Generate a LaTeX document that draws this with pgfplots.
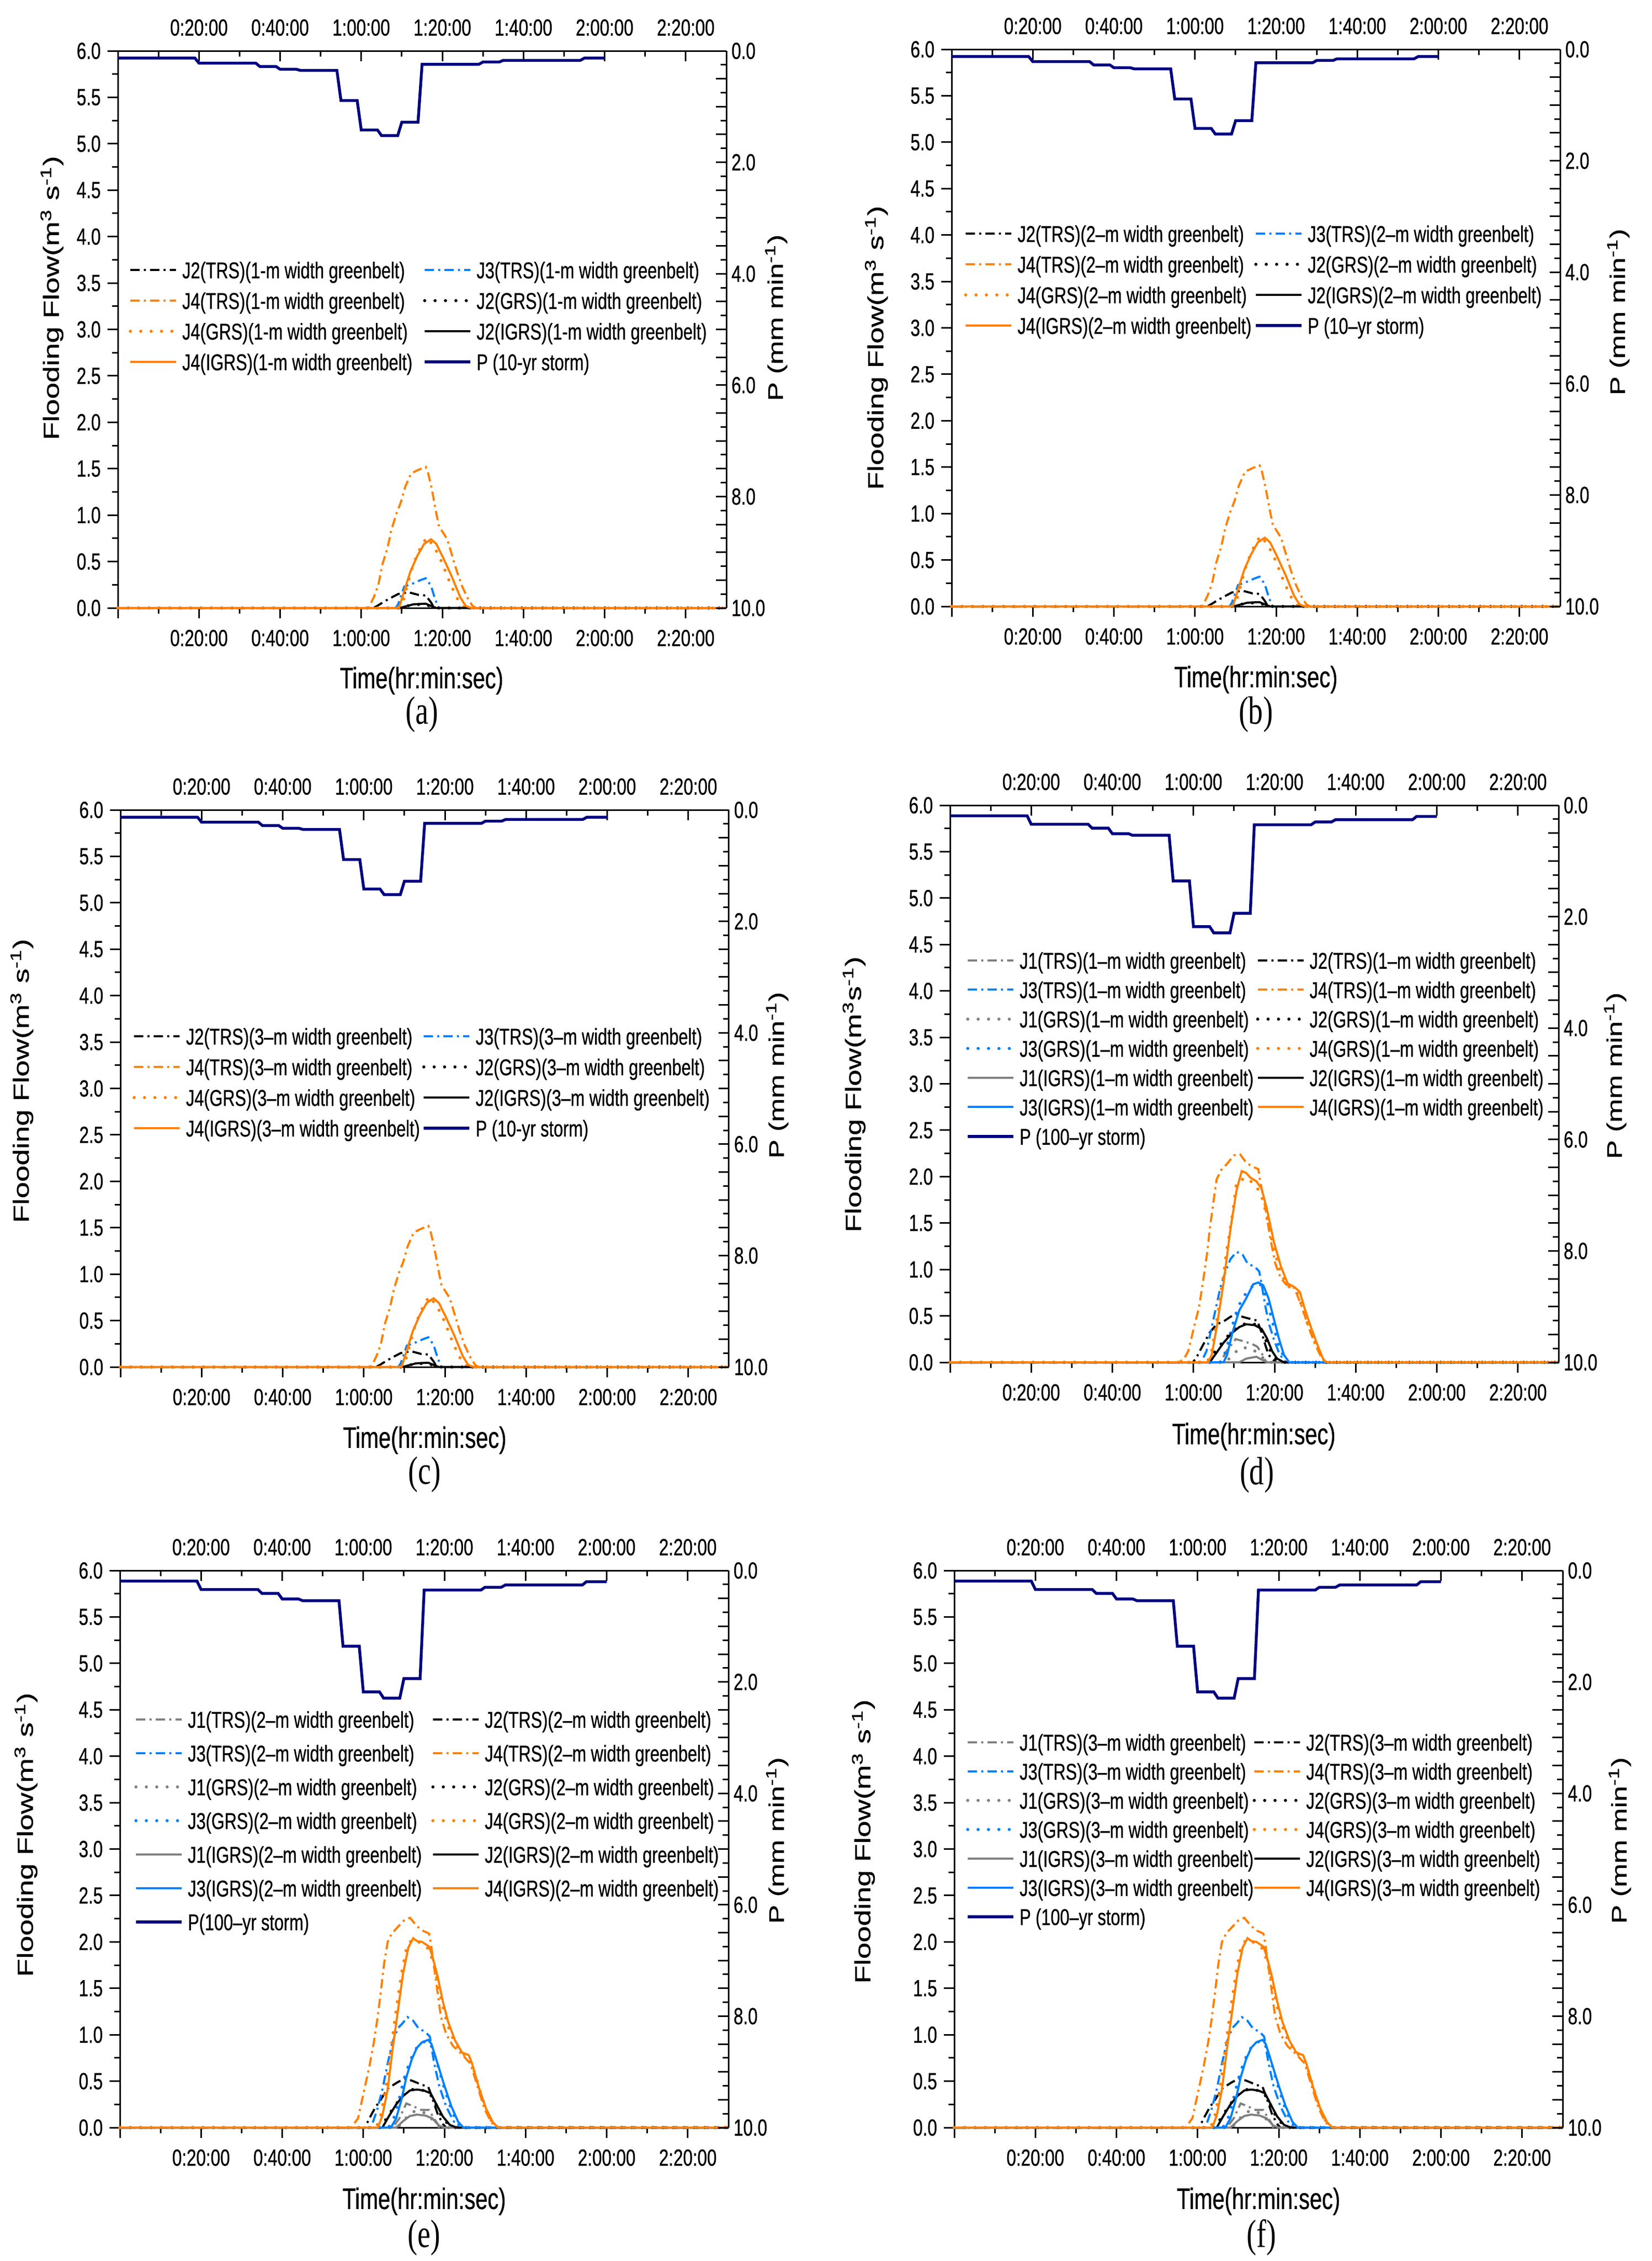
\documentclass[border=0pt]{standalone}
\usepackage{fontspec}
\setmainfont{Liberation Sans}[FakeStretch=0.74, FakeBold=0.6]
\newfontfamily\plainsans{Liberation Sans}[FakeBold=0.6]
\newfontfamily\serifc{Liberation Serif}[FakeStretch=0.74]
\usepackage{graphicx}
\usepackage{pgfplots}
\usepackage{pgfplotstable}
\pgfplotsset{compat=1.18}
\definecolor{cOr}{RGB}{255,128,0}
\definecolor{cBl}{RGB}{0,128,255}
\definecolor{cGr}{RGB}{128,128,128}
\definecolor{cNv}{RGB}{0,0,128}
\newcommand{\ticf}{\fontsize{9.0pt}{10pt}\selectfont}
\newcommand{\legf}{\fontsize{8.8pt}{10pt}\selectfont}
\newcommand{\xlab}{\fontsize{11.4pt}{13pt}\selectfont}
\newcommand{\ylab}{\plainsans\fontsize{11.4pt}{13pt}\selectfont}
\newcommand{\plab}{\plainsans\fontsize{11pt}{13pt}\selectfont}
\newcommand{\capf}{\serifc\fontsize{15.2pt}{17pt}\selectfont}
\newlength{\legw}
\newcommand{\LE}[1]{\makebox[\legw][l]{#1}}
\newcommand{\YL}[1]{\scalebox{1}[0.74]{\ylab #1}}
\newcommand{\PL}[1]{\scalebox{1}[0.74]{\plab #1}}
\tikzset{
 trs/.style={line width=0.8pt, dash pattern=on 3.6pt off 1.6pt on 0.8pt off 1.6pt},
 grs/.style={line width=1.2pt, line cap=round, dash pattern=on 0pt off 4pt},
 igrs/.style={line width=0.8pt},
 pst/.style={cNv, line width=1.1pt},
}
\pgfplotsset{
 base/.style={scale only axis, width=234.4pt, height=214.6pt, xmin=0, xmax=150, clip=false,
   xtick={0,20,...,140}, minor x tick num=1, major tick length=4pt, minor tick length=2.2pt,
   tick style={black, line width=0.6pt}, axis line style={line width=0.6pt},
   tick label style={font=\ticf}, /pgf/number format/assume math mode=true,
   xticklabels={{},0:20:00,0:40:00,1:00:00,1:20:00,1:40:00,2:00:00,2:20:00},
   anchor=south west},
 mainax/.style={base, axis x line*=bottom, axis y line*=left, tick align=outside,
   ymin=0, ymax=6, ytick={0,0.5,...,6}, minor y tick num=1,
   yticklabel style={inner sep=0pt, xshift=-2.4pt},
   y tick label style={/pgf/number format/.cd, fixed, fixed zerofill, precision=1, /tikz/.cd},
   xticklabel style={inner sep=0pt, yshift=-4.2pt},
   legend columns=2, legend cell align=left,
   legend image code/.code={\draw[##1] (0pt,0pt) -- (17.6pt,0pt);},
   legend style={draw=none, fill=none, inner sep=0pt, outer sep=0pt, anchor=north west,
     font=\legf, column sep=1.8pt, /tikz/every even column/.append style={column sep=0pt},
     nodes={inner sep=0pt, text height=6.4pt, text depth=0pt}}},
 secax/.style={base, axis x line*=top, axis y line*=right, tick align=inside,
   ymin=0, ymax=10, y dir=reverse, ytick={0,0.5,...,10}, minor y tick num=1,
   yticklabels={0.0,,,,2.0,,,,4.0,,,,6.0,,,,8.0,,,,10.0},
   yticklabel style={inner sep=0pt, xshift=1.8pt},
   xticklabel style={inner sep=0pt, yshift=5.6pt}},
}
% ---------- 10-yr storm, flooding flow (m3/s) vs time (min)
\pgfplotstableread[row sep=\\]{t y\\0 0\\63 0\\64 0.024\\65.7 0.07\\67.6 0.116\\69.1 0.15\\71.6 0.17\\74.2 0.14\\75.9 0.135\\77.2 0.06\\77.8 0.015\\78.3 0\\150 0\\}\tenJtwoTRS
\pgfplotstableread[row sep=\\]{t y\\0 0\\68.5 0\\69.1 0.04\\70.6 0.23\\73.1 0.27\\74.6 0.30\\75.9 0.32\\76.5 0.29\\77.4 0.21\\78.0 0.125\\78.9 0.015\\79.2 0\\150 0\\}\tenJthreeTRS
\pgfplotstableread[row sep=\\]{t y\\0 0\\61.8 0\\63.1 0.116\\64.2 0.245\\65.2 0.467\\66.5 0.65\\67.4 0.836\\68.7 1.02\\69.7 1.13\\70.8 1.30\\72.3 1.45\\74.2 1.49\\75.9 1.52\\76.5 1.45\\77.4 1.28\\78.5 1.02\\79.1 0.89\\79.9 0.83\\81.2 0.74\\82.3 0.58\\83.6 0.39\\84.9 0.23\\86.1 0.116\\87.4 0.024\\88.3 0\\150 0\\}\tenJfourTRS
\pgfplotstableread[row sep=\\]{t y\\0 0\\69.5 0\\72.5 0.035\\75.5 0.04\\77.5 0.012\\78.5 0\\150 0\\}\tenJtwoGRS
\pgfplotstableread[row sep=\\]{t y\\0 0\\69.0 0\\70.5 0.1\\71.7 0.3\\72.8 0.47\\74.5 0.64\\76.1 0.76\\78.0 0.66\\79.9 0.49\\81.6 0.30\\83.3 0.13\\84.5 0.04\\85.5 0\\150 0\\}\tenJfourGRS
\pgfplotstableread[row sep=\\]{t y\\0 0\\69.5 0\\72.9 0.04\\75.9 0.046\\77.6 0.015\\78.5 0\\150 0\\}\tenJtwoIGRS
\pgfplotstableread[row sep=\\]{t y\\0 0\\69.3 0\\70.8 0.21\\72.1 0.39\\73.8 0.56\\75.5 0.69\\77.2 0.74\\78.5 0.69\\80.2 0.54\\82.3 0.34\\84.4 0.116\\85.7 0.024\\87.0 0\\150 0\\}\tenJfourIGRS
% ---------- 100-yr storm, 1-m greenbelt (d)
\pgfplotstableread[row sep=\\]{t y\\0 0\\66.6 0\\68.3 0.13\\70.4 0.25\\72.1 0.23\\74.3 0.20\\75.7 0.17\\76.8 0.10\\77.7 0.02\\78.1 0\\150 0\\}\dJoneTRS
\pgfplotstableread[row sep=\\]{t y\\0 0\\59.8 0\\60.6 0.04\\61.9 0.15\\64.0 0.32\\65.7 0.41\\67.4 0.44\\69.1 0.49\\70.6 0.52\\72.1 0.49\\73.8 0.47\\75.7 0.45\\76.8 0.32\\77.7 0.19\\78.5 0.08\\79.8 0.02\\80.6 0\\150 0\\}\dJtwoTRS
\pgfplotstableread[row sep=\\]{t y\\0 0\\61.9 0\\63.2 0.12\\64.0 0.28\\65.3 0.54\\66.6 0.80\\67.9 0.98\\69.1 1.11\\70.6 1.19\\72.1 1.16\\73.4 1.06\\75.1 1.03\\76.2 0.98\\76.8 0.84\\77.7 0.61\\78.5 0.43\\79.8 0.25\\81.1 0.10\\82.3 0.02\\83.0 0\\150 0\\}\dJthreeTRS
\pgfplotstableread[row sep=\\]{t y\\0 0\\56.4 0\\57.7 0.04\\58.7 0.12\\60.2 0.39\\61.3 0.58\\62.3 0.85\\63.4 1.19\\64.0 1.43\\64.9 1.72\\65.7 1.97\\66.8 2.07\\68.3 2.14\\70.0 2.23\\71.5 2.24\\73.0 2.15\\74.5 2.11\\76.0 2.08\\76.4 1.96\\77.7 1.67\\79.0 1.32\\80.2 1.06\\81.5 0.91\\82.8 0.84\\84.9 0.80\\86.6 0.61\\88.3 0.39\\90.0 0.19\\91.7 0.04\\92.6 0\\150 0\\}\dJfourTRS
\pgfplotstableread[row sep=\\]{t y\\0 0\\68 0\\70 0.10\\72 0.16\\74 0.15\\76 0.10\\77.5 0.03\\78.5 0\\150 0\\}\dJoneGRS
\pgfplotstableread[row sep=\\]{t y\\0 0\\63.5 0\\65 0.10\\67.4 0.23\\69.6 0.34\\71.3 0.39\\73 0.42\\75.1 0.41\\76.8 0.35\\78 0.22\\79.4 0.08\\80.6 0.02\\81.5 0\\150 0\\}\dJtwoGRS
\pgfplotstableread[row sep=\\]{t y\\0 0\\66.5 0\\68 0.12\\69.5 0.38\\71 0.60\\73 0.75\\75 0.84\\76.3 0.85\\77.3 0.78\\78.5 0.60\\79.8 0.38\\81 0.18\\82.5 0.04\\83.3 0\\150 0\\}\dJthreeGRS
\pgfplotstableread[row sep=\\]{t y\\0 0\\63.3 0\\64.3 0.08\\65.5 0.38\\67.2 0.88\\68.3 1.24\\69.6 1.59\\70.6 1.94\\73.0 1.99\\75.5 1.90\\77.2 1.74\\79.0 1.37\\81.1 1.02\\82.8 0.84\\85.7 0.74\\88.3 0.39\\90.0 0.21\\91.7 0.04\\92.7 0\\150 0\\}\dJfourGRS
\pgfplotstableread[row sep=\\]{t y\\0 0\\71.3 0\\73.0 0.04\\75.5 0.06\\77.2 0.02\\78.1 0\\150 0\\}\dJoneIGRS
\pgfplotstableread[row sep=\\]{t y\\0 0\\64.0 0\\65.3 0.08\\67.4 0.21\\69.6 0.32\\71.3 0.38\\73.0 0.41\\75.1 0.40\\76.8 0.36\\78.1 0.26\\79.4 0.12\\80.6 0.04\\82.3 0\\150 0\\}\dJtwoIGRS
\pgfplotstableread[row sep=\\]{t y\\0 0\\67.4 0\\68.3 0.08\\69.6 0.32\\71.3 0.56\\73.0 0.69\\74.7 0.84\\76.0 0.86\\77.2 0.83\\78.5 0.69\\79.8 0.47\\81.1 0.25\\82.3 0.08\\83.6 0\\150 0\\}\dJthreeIGRS
\pgfplotstableread[row sep=\\]{t y\\0 0\\63.6 0\\64.5 0.08\\65.7 0.37\\67.4 0.85\\69.1 1.43\\70.6 1.85\\71.9 2.06\\73.0 2.04\\74.0 1.99\\75.5 1.95\\76.8 1.87\\78.1 1.65\\79.8 1.30\\81.5 1.04\\83.2 0.85\\84.9 0.81\\86.2 0.76\\87.4 0.58\\89.1 0.36\\90.9 0.15\\92.1 0.02\\93.0 0\\150 0\\}\dJfourIGRS
% ---------- 100-yr storm, 2-m / 3-m greenbelt (e, f)
\pgfplotstableread[row sep=\\]{t y\\0 0\\67.2 0\\68.9 0.10\\70.6 0.26\\72.3 0.23\\74.3 0.19\\76.2 0.19\\77.0 0.13\\78.3 0.04\\79.1 0\\150 0\\}\eJoneTRS
\pgfplotstableread[row sep=\\]{t y\\0 0\\60.4 0\\61.5 0.10\\63.0 0.22\\64.3 0.30\\66.0 0.42\\68.5 0.49\\70.4 0.53\\72.3 0.50\\74.5 0.46\\76.0 0.44\\77.0 0.32\\78.3 0.15\\79.6 0.04\\80.4 0\\150 0\\}\eJtwoTRS
\pgfplotstableread[row sep=\\]{t y\\0 0\\61.9 0\\63.4 0.19\\64.7 0.41\\66.0 0.69\\67.2 0.92\\68.5 1.07\\69.6 1.12\\70.9 1.19\\72.3 1.15\\73.6 1.07\\75.3 1.03\\76.4 0.98\\77.4 0.71\\78.7 0.45\\80.4 0.23\\82.1 0.08\\83.4 0\\150 0\\}\eJthreeTRS
\pgfplotstableread[row sep=\\]{t y\\0 0\\57.0 0\\58.7 0.10\\60.2 0.40\\61.5 0.66\\62.6 0.92\\63.5 1.18\\64.3 1.46\\65.1 1.76\\66.0 2.00\\67.0 2.09\\68.5 2.16\\70.0 2.23\\71.5 2.26\\73.2 2.17\\74.7 2.12\\76.2 2.09\\76.6 2.00\\77.9 1.59\\79.1 1.20\\80.4 1.01\\82.1 0.88\\84.3 0.79\\86.4 0.69\\88.1 0.45\\89.8 0.21\\91.5 0.06\\92.8 0\\150 0\\}\eJfourTRS
\pgfplotstableread[row sep=\\]{t y\\0 0\\68.5 0\\70 0.08\\72 0.17\\74 0.18\\76 0.14\\77.5 0.06\\78.8 0\\150 0\\}\eJoneGRS
\pgfplotstableread[row sep=\\]{t y\\0 0\\64.3 0\\66 0.12\\68 0.25\\70 0.36\\72 0.41\\74 0.41\\76.2 0.38\\77.6 0.28\\79.2 0.13\\81 0.03\\82.5 0\\150 0\\}\eJtwoGRS
\pgfplotstableread[row sep=\\]{t y\\0 0\\66.2 0\\67.5 0.10\\68.8 0.30\\70 0.52\\71.5 0.72\\73 0.85\\74.5 0.92\\76 0.93\\77 0.86\\78.5 0.65\\80 0.42\\81.5 0.22\\83 0.06\\84.3 0\\150 0\\}\eJthreeGRS
\pgfplotstableread[row sep=\\]{t y\\0 0\\63.2 0\\64.4 0.15\\65.6 0.45\\66.9 0.88\\68.2 1.30\\69.5 1.68\\70.7 1.95\\72.1 2.03\\74.5 1.98\\76.2 1.92\\77.7 1.70\\79.3 1.36\\80.8 1.10\\82.5 0.92\\84.3 0.80\\86.0 0.76\\86.9 0.67\\88.6 0.42\\90.2 0.20\\91.8 0.05\\93.0 0\\150 0\\}\eJfourGRS
\pgfplotstableread[row sep=\\]{t y\\0 0\\68.1 0\\69.8 0.07\\71.5 0.125\\73.2 0.14\\75.3 0.13\\77.0 0.10\\78.7 0.02\\80.0 0\\150 0\\}\eJoneIGRS
\pgfplotstableread[row sep=\\]{t y\\0 0\\64.7 0\\66.4 0.13\\68.1 0.25\\69.8 0.34\\71.5 0.40\\73.2 0.41\\74.9 0.40\\76.6 0.37\\77.9 0.26\\79.6 0.12\\81.3 0.03\\83.0 0\\150 0\\}\eJtwoIGRS
\pgfplotstableread[row sep=\\]{t y\\0 0\\66.8 0\\68.1 0.10\\69.4 0.30\\70.6 0.54\\71.9 0.73\\73.2 0.86\\74.5 0.92\\76.0 0.945\\76.8 0.90\\78.3 0.69\\80.0 0.45\\81.7 0.23\\83.4 0.06\\84.7 0\\150 0\\}\eJthreeIGRS
\pgfplotstableread[row sep=\\]{t y\\0 0\\63.6 0\\64.7 0.13\\66.0 0.41\\67.2 0.84\\68.5 1.25\\69.8 1.66\\71.1 1.94\\72.3 2.04\\73.2 2.01\\74.5 2.00\\76.2 1.95\\77.0 1.85\\78.3 1.63\\79.6 1.36\\80.9 1.14\\82.6 0.94\\84.3 0.81\\86.0 0.78\\86.8 0.69\\88.5 0.43\\90.2 0.21\\91.9 0.06\\93.2 0\\150 0\\}\eJfourIGRS
% ---------- rainfall intensity P (mm/min)
\pgfplotstableread[row sep=\\]{t p\\0 0.13\\19 0.13\\20 0.22\\34 0.22\\35 0.28\\39 0.28\\40 0.33\\44 0.33\\45 0.35\\54 0.35\\55 0.89\\59 0.89\\60 1.42\\64 1.42\\65 1.52\\69 1.52\\70 1.28\\74 1.28\\75 0.24\\89 0.24\\90 0.20\\94 0.20\\95 0.17\\114 0.17\\115 0.13\\120 0.13\\}\Pten
\pgfplotstableread[row sep=\\]{t p\\0 0.19\\19 0.19\\20 0.34\\34 0.34\\35 0.41\\39 0.41\\40 0.51\\44 0.51\\45 0.54\\54 0.54\\55 1.36\\59 1.36\\60 2.18\\64 2.18\\65 2.29\\69 2.29\\70 1.94\\74 1.94\\75 0.35\\89 0.35\\90 0.30\\94 0.30\\95 0.26\\114 0.26\\115 0.20\\120 0.20\\}\Phun
\begin{document}
\begin{tikzpicture}
\path[use as bounding box] (0pt,0pt) rectangle (636.4pt,-871pt);
% ================= (a)
\setlength{\legw}{92.8pt}
\begin{axis}[mainax, at={(45.4pt,-234.2pt)}, legend style={at={(0.018,0.6216)}, row sep=5.4pt}]
\addplot[black, trs] table {\tenJtwoTRS}; \addlegendentry{\LE{J2(TRS)(1-m width greenbelt)}}
\addplot[cBl, trs] table {\tenJthreeTRS}; \addlegendentry{\LE{J3(TRS)(1-m width greenbelt)}}
\addplot[cOr, trs] table {\tenJfourTRS}; \addlegendentry{\LE{J4(TRS)(1-m width greenbelt)}}
\addplot[black, grs] table {\tenJtwoGRS}; \addlegendentry{\LE{J2(GRS)(1-m width greenbelt)}}
\addplot[cOr, grs] table {\tenJfourGRS}; \addlegendentry{\LE{J4(GRS)(1-m width greenbelt)}}
\addplot[black, igrs] table {\tenJtwoIGRS}; \addlegendentry{\LE{J2(IGRS)(1-m width greenbelt)}}
\addplot[cOr, igrs] table {\tenJfourIGRS}; \addlegendentry{\LE{J4(IGRS)(1-m width greenbelt)}}
\addlegendimage{pst}\addlegendentry{\LE{P (10-yr storm)}}
\end{axis}
\begin{axis}[secax, at={(45.4pt,-234.2pt)}]
\addplot[pst] table {\Pten};
\end{axis}
% ================= (b)
\setlength{\legw}{91.2pt}
\begin{axis}[mainax, at={(366.6pt,-233.6pt)}, legend style={at={(0.0205,0.684)}, row sep=5.4pt}]
\addplot[black, trs] table {\tenJtwoTRS}; \addlegendentry{\LE{J2(TRS)(2–m width greenbelt)}}
\addplot[cBl, trs] table {\tenJthreeTRS}; \addlegendentry{\LE{J3(TRS)(2–m width greenbelt)}}
\addplot[cOr, trs] table {\tenJfourTRS}; \addlegendentry{\LE{J4(TRS)(2–m width greenbelt)}}
\addplot[black, grs] table {\tenJtwoGRS}; \addlegendentry{\LE{J2(GRS)(2–m width greenbelt)}}
\addplot[cOr, grs] table {\tenJfourGRS}; \addlegendentry{\LE{J4(GRS)(2–m width greenbelt)}}
\addplot[black, igrs] table {\tenJtwoIGRS}; \addlegendentry{\LE{J2(IGRS)(2–m width greenbelt)}}
\addplot[cOr, igrs] table {\tenJfourIGRS}; \addlegendentry{\LE{J4(IGRS)(2–m width greenbelt)}}
\addlegendimage{pst}\addlegendentry{\LE{P (10–yr storm)}}
\end{axis}
\begin{axis}[secax, at={(366.6pt,-233.6pt)}]
\addplot[pst] table {\Pten};
\end{axis}
% ================= (c)
\setlength{\legw}{91.0pt}
\begin{axis}[mainax, at={(46.4pt,-526.6pt)}, legend style={at={(0.0199,0.6086)}, row sep=5.4pt}]
\addplot[black, trs] table {\tenJtwoTRS}; \addlegendentry{\LE{J2(TRS)(3–m width greenbelt)}}
\addplot[cBl, trs] table {\tenJthreeTRS}; \addlegendentry{\LE{J3(TRS)(3–m width greenbelt)}}
\addplot[cOr, trs] table {\tenJfourTRS}; \addlegendentry{\LE{J4(TRS)(3–m width greenbelt)}}
\addplot[black, grs] table {\tenJtwoGRS}; \addlegendentry{\LE{J2(GRS)(3–m width greenbelt)}}
\addplot[cOr, grs] table {\tenJfourGRS}; \addlegendentry{\LE{J4(GRS)(3–m width greenbelt)}}
\addplot[black, igrs] table {\tenJtwoIGRS}; \addlegendentry{\LE{J2(IGRS)(3–m width greenbelt)}}
\addplot[cOr, igrs] table {\tenJfourIGRS}; \addlegendentry{\LE{J4(IGRS)(3–m width greenbelt)}}
\addlegendimage{pst}\addlegendentry{\LE{P (10-yr storm)}}
\end{axis}
\begin{axis}[secax, at={(46.4pt,-526.6pt)}]
\addplot[pst] table {\Pten};
\end{axis}
% ================= (d)
\setlength{\legw}{91.1pt}
\begin{axis}[mainax, at={(366.0pt,-524.8pt)}, legend style={at={(0.0265,0.7363)}, row sep=4.9pt}]
\addplot[cGr, trs] table {\dJoneTRS}; \addlegendentry{\LE{J1(TRS)(1–m width greenbelt)}}
\addplot[black, trs] table {\dJtwoTRS}; \addlegendentry{\LE{J2(TRS)(1–m width greenbelt)}}
\addplot[cBl, trs] table {\dJthreeTRS}; \addlegendentry{\LE{J3(TRS)(1–m width greenbelt)}}
\addplot[cOr, trs] table {\dJfourTRS}; \addlegendentry{\LE{J4(TRS)(1–m width greenbelt)}}
\addplot[cGr, grs] table {\dJoneGRS}; \addlegendentry{\LE{J1(GRS)(1–m width greenbelt)}}
\addplot[black, grs] table {\dJtwoGRS}; \addlegendentry{\LE{J2(GRS)(1–m width greenbelt)}}
\addplot[cBl, grs] table {\dJthreeGRS}; \addlegendentry{\LE{J3(GRS)(1–m width greenbelt)}}
\addplot[cOr, grs] table {\dJfourGRS}; \addlegendentry{\LE{J4(GRS)(1–m width greenbelt)}}
\addplot[cGr, igrs] table {\dJoneIGRS}; \addlegendentry{\LE{J1(IGRS)(1–m width greenbelt)}}
\addplot[black, igrs] table {\dJtwoIGRS}; \addlegendentry{\LE{J2(IGRS)(1–m width greenbelt)}}
\addplot[cBl, igrs] table {\dJthreeIGRS}; \addlegendentry{\LE{J3(IGRS)(1–m width greenbelt)}}
\addplot[cOr, igrs] table {\dJfourIGRS}; \addlegendentry{\LE{J4(IGRS)(1–m width greenbelt)}}
\addlegendimage{pst}\addlegendentry{\LE{P (100–yr storm)}}
\end{axis}
\begin{axis}[secax, at={(366.0pt,-524.8pt)}]
\addplot[pst] table {\Phun};
\end{axis}
% ================= (e)
\setlength{\legw}{93.8pt}
\begin{axis}[mainax, at={(46.2pt,-819.6pt)}, legend style={at={(0.0238,0.7476)}, row sep=6.6pt}]
\addplot[cGr, trs] table {\eJoneTRS}; \addlegendentry{\LE{J1(TRS)(2–m width greenbelt)}}
\addplot[black, trs] table {\eJtwoTRS}; \addlegendentry{\LE{J2(TRS)(2–m width greenbelt)}}
\addplot[cBl, trs] table {\eJthreeTRS}; \addlegendentry{\LE{J3(TRS)(2–m width greenbelt)}}
\addplot[cOr, trs] table {\eJfourTRS}; \addlegendentry{\LE{J4(TRS)(2–m width greenbelt)}}
\addplot[cGr, grs] table {\eJoneGRS}; \addlegendentry{\LE{J1(GRS)(2–m width greenbelt)}}
\addplot[black, grs] table {\eJtwoGRS}; \addlegendentry{\LE{J2(GRS)(2–m width greenbelt)}}
\addplot[cBl, grs] table {\eJthreeGRS}; \addlegendentry{\LE{J3(GRS)(2–m width greenbelt)}}
\addplot[cOr, grs] table {\eJfourGRS}; \addlegendentry{\LE{J4(GRS)(2–m width greenbelt)}}
\addplot[cGr, igrs] table {\eJoneIGRS}; \addlegendentry{\LE{J1(IGRS)(2–m width greenbelt)}}
\addplot[black, igrs] table {\eJtwoIGRS}; \addlegendentry{\LE{J2(IGRS)(2–m width greenbelt)}}
\addplot[cBl, igrs] table {\eJthreeIGRS}; \addlegendentry{\LE{J3(IGRS)(2–m width greenbelt)}}
\addplot[cOr, igrs] table {\eJfourIGRS}; \addlegendentry{\LE{J4(IGRS)(2–m width greenbelt)}}
\addlegendimage{pst}\addlegendentry{\LE{P(100–yr storm)}}
\end{axis}
\begin{axis}[secax, at={(46.2pt,-819.6pt)}]
\addplot[pst] table {\Phun};
\end{axis}
% ================= (f)
\setlength{\legw}{89.8pt}
\begin{axis}[mainax, at={(367.6pt,-819.6pt)}, legend style={at={(0.0196,0.7066)}, row sep=4.8pt}]
\addplot[cGr, trs] table {\eJoneTRS}; \addlegendentry{\LE{J1(TRS)(3–m width greenbelt)}}
\addplot[black, trs] table {\eJtwoTRS}; \addlegendentry{\LE{J2(TRS)(3–m width greenbelt)}}
\addplot[cBl, trs] table {\eJthreeTRS}; \addlegendentry{\LE{J3(TRS)(3–m width greenbelt)}}
\addplot[cOr, trs] table {\eJfourTRS}; \addlegendentry{\LE{J4(TRS)(3–m width greenbelt)}}
\addplot[cGr, grs] table {\eJoneGRS}; \addlegendentry{\LE{J1(GRS)(3–m width greenbelt)}}
\addplot[black, grs] table {\eJtwoGRS}; \addlegendentry{\LE{J2(GRS)(3–m width greenbelt)}}
\addplot[cBl, grs] table {\eJthreeGRS}; \addlegendentry{\LE{J3(GRS)(3–m width greenbelt)}}
\addplot[cOr, grs] table {\eJfourGRS}; \addlegendentry{\LE{J4(GRS)(3–m width greenbelt)}}
\addplot[cGr, igrs] table {\eJoneIGRS}; \addlegendentry{\LE{J1(IGRS)(3–m width greenbelt)}}
\addplot[black, igrs] table {\eJtwoIGRS}; \addlegendentry{\LE{J2(IGRS)(3–m width greenbelt)}}
\addplot[cBl, igrs] table {\eJthreeIGRS}; \addlegendentry{\LE{J3(IGRS)(3–m width greenbelt)}}
\addplot[cOr, igrs] table {\eJfourIGRS}; \addlegendentry{\LE{J4(IGRS)(3–m width greenbelt)}}
\addlegendimage{pst}\addlegendentry{\LE{P (100–yr storm)}}
\end{axis}
\begin{axis}[secax, at={(367.6pt,-819.6pt)}]
\addplot[pst] table {\Phun};
\end{axis}
% ================= labels
\node[rotate=90] at (20pt,-114.8pt) {\YL{Flooding Flow(m\textsuperscript{3} s\textsuperscript{-1})}};
\node[rotate=90] at (299pt,-122.4pt) {\PL{P (mm min\textsuperscript{-1})}};
\node[font=\xlab] at (162.4pt,-262.2pt) {Time(hr:min:sec)};
\node[font=\capf] at (162.6pt,-275.2pt) {(a)};
\node[rotate=90] at (337.6pt,-134pt) {\YL{Flooding Flow(m\textsuperscript{3} s\textsuperscript{-1})}};
\node[rotate=90] at (623.4pt,-120.2pt) {\PL{P (mm min\textsuperscript{-1})}};
\node[font=\xlab] at (483.8pt,-261.8pt) {Time(hr:min:sec)};
\node[font=\capf] at (483.8pt,-275.2pt) {(b)};
\node[rotate=90] at (8.4pt,-416.4pt) {\YL{Flooding Flow(m\textsuperscript{3} s\textsuperscript{-1})}};
\node[rotate=90] at (299.4pt,-414.2pt) {\PL{P (mm min\textsuperscript{-1})}};
\node[font=\xlab] at (163.6pt,-554.8pt) {Time(hr:min:sec)};
\node[font=\capf] at (163.6pt,-568pt) {(c)};
\node[rotate=90] at (329pt,-421.6pt) {\YL{Flooding Flow(m\textsuperscript{3}s\textsuperscript{-1})}};
\node[rotate=90] at (622.2pt,-414.4pt) {\PL{P (mm min\textsuperscript{-1})}};
\node[font=\xlab] at (483pt,-553.4pt) {Time(hr:min:sec)};
\node[font=\capf] at (484.2pt,-568.2pt) {(d)};
\node[rotate=90] at (10pt,-706.8pt) {\YL{Flooding Flow(m\textsuperscript{3} s\textsuperscript{-1})}};
\node[rotate=90] at (299.4pt,-709pt) {\PL{P (mm min\textsuperscript{-1})}};
\node[font=\xlab] at (163.4pt,-848pt) {Time(hr:min:sec)};
\node[font=\capf] at (163.4pt,-862pt) {(e)};
\node[rotate=90] at (332.6pt,-709.4pt) {\YL{Flooding Flow(m\textsuperscript{3} s\textsuperscript{-1})}};
\node[rotate=90] at (624pt,-709pt) {\PL{P (mm min\textsuperscript{-1})}};
\node[font=\xlab] at (484.8pt,-848pt) {Time(hr:min:sec)};
\node[font=\capf] at (486pt,-862pt) {(f)};
\end{tikzpicture}
\end{document}
